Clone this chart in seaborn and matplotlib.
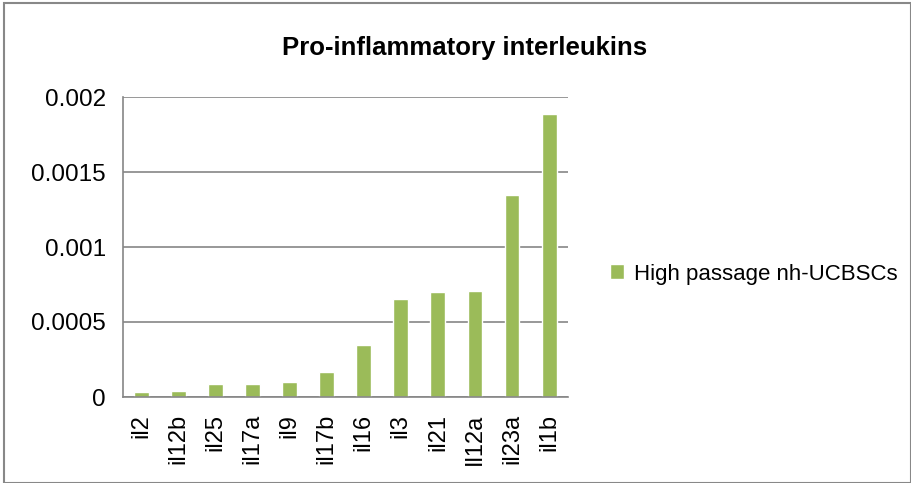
import matplotlib
matplotlib.use("Agg")
import matplotlib.pyplot as plt
import matplotlib.patches as mpatches
import seaborn as sns
import pandas as pd

genes = ["il2", "il12b", "il25", "il17a", "il9", "il17b", "il16",
         "il3", "il21", "Il12a", "il23a", "il1b"]
values = [0.000035, 0.00004, 0.000085, 0.000089, 0.000098, 0.000165,
          0.000345, 0.000655, 0.0007, 0.000707, 0.00135, 0.001885]
series = "High passage nh-UCBSCs"

df = pd.DataFrame({"gene": genes, "value": values, "series": series})

sns.set_style("white")
plt.rcParams["font.family"] = ["Liberation Sans", "DejaVu Sans"]
plt.rcParams["text.color"] = "black"
plt.rcParams["xtick.color"] = "black"
plt.rcParams["ytick.color"] = "black"

fig = plt.figure(figsize=(9.11, 4.83), dpi=100)
ax = fig.add_axes([122.7 / 911, 1 - 397 / 483, 445 / 911, 300 / 483])

sns.barplot(data=df, x="gene", y="value", hue="series", palette=["#9BBB59"],
            width=0.4, saturation=1, ax=ax, legend=True)

grid = "#868686"
ax.set_ylim(0, 0.002)
ax.set_xlim(-0.5, 11.5)
ax.set_yticks([0, 0.0005, 0.001, 0.0015, 0.002])
ax.set_yticklabels(["0", "0.0005", "0.001", "0.0015", "0.002"], fontsize=17.5)
ax.yaxis.grid(True, color=grid, linewidth=1.2)
ax.set_axisbelow(True)
ax.set_xlabel("")
ax.set_ylabel("")
for s in ["top", "right"]:
    ax.spines[s].set_visible(False)
for s in ["left", "bottom"]:
    ax.spines[s].set_color(grid)
    ax.spines[s].set_linewidth(1.2)

ax.set_xticks(range(len(genes)))
ax.set_xticklabels(genes, rotation=90, fontsize=17)
ax.tick_params(axis="x", which="major", length=0, pad=12)
ax.set_xticks([i - 0.5 for i in range(len(genes) + 1)], minor=True)
ax.tick_params(axis="x", which="minor", length=6, color=grid, width=1.2)
ax.tick_params(axis="y", length=7, color=grid, labelcolor="black", width=1.2, pad=5)

ax.legend(loc="center left", bbox_to_anchor=(1.05, 0.41), frameon=False,
          fontsize=16, handlelength=0.65, handleheight=0.65, handletextpad=0.45)

fig.suptitle("Pro-inflammatory interleukins", x=465 / 911, y=1 - 48 / 483,
             va="center", fontsize=18.5, fontweight="bold")

fig.patches.append(mpatches.Rectangle((4 / 911, 0), 1 - 4 / 911, 1 - 3 / 483,
                                      transform=fig.transFigure, fill=False,
                                      edgecolor="#888888", linewidth=1.5))

fig.savefig("out.png", dpi=100)
